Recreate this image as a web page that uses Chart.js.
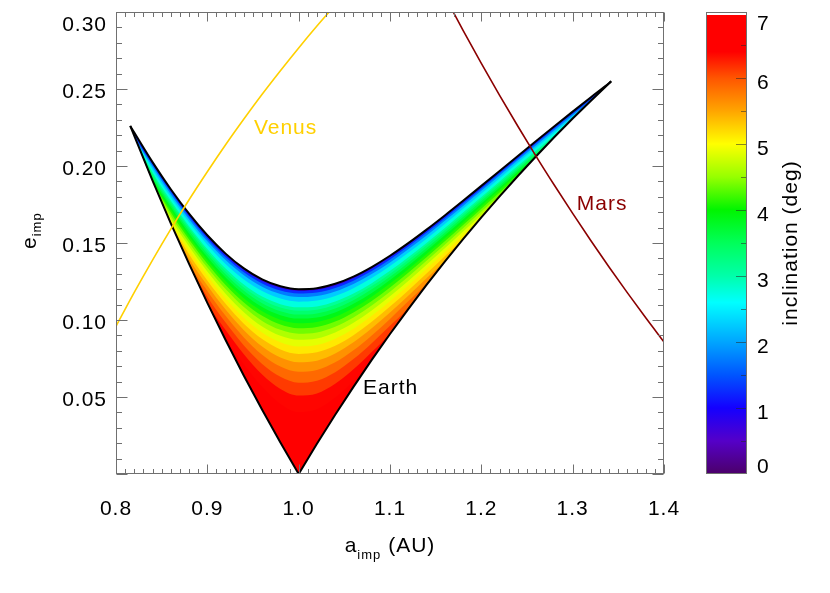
<!DOCTYPE html>
<html>
<head>
<meta charset="utf-8">
<script src="https://cdn.jsdelivr.net/npm/chart.js@4.4.1/dist/chart.umd.min.js"></script>
<style>
  html, body { margin: 0; padding: 0; background: #fff; }
  #wrap { position: relative; width: 830px; height: 593px; }
  #wrap canvas { position: absolute; left: 0; top: 0; }
</style>
</head>
<body>
<div id="wrap">
  <canvas id="mainChart" width="830" height="593"></canvas>
  <canvas id="barChart" width="830" height="593"></canvas>
</div>
<script>
// semi-major axis grid (AU), tip to tip of the impactor region
const aGrid = [0.8156, 0.82, 0.84, 0.86, 0.88, 0.90, 0.92, 0.94, 0.96, 0.98, 1.00, 1.02, 1.04, 1.06, 1.08,
               1.10, 1.12, 1.14, 1.16, 1.18, 1.20, 1.22, 1.24, 1.26, 1.28, 1.30, 1.32, 1.34, 1.3422];

// Earth-crossing boundary (lower edge of the region)
const earthE = [0.2260, 0.2195, 0.1905, 0.1628, 0.1364, 0.1111, 0.0870, 0.0638, 0.0417, 0.0204, 0.0000, 0.0196, 0.0385, 0.0566, 0.0741,
                0.0909, 0.1071, 0.1228, 0.1379, 0.1525, 0.1667, 0.1803, 0.1935, 0.2063, 0.2188, 0.2308, 0.2424, 0.2537, 0.2550];

// eccentricity of the inclination contours (deg), clipped on the Earth curve
const eInc0   = [0.2260, 0.2217, 0.2025, 0.1849, 0.1690, 0.1550, 0.1431, 0.1335, 0.1264, 0.1219, 0.1200, 0.1206, 0.1235, 0.1282, 0.1344, 0.1417, 0.1499, 0.1587, 0.1679, 0.1774, 0.1871, 0.1968, 0.2065, 0.2162, 0.2258, 0.2353, 0.2447, 0.2539, 0.2550];
const eInc05  = [0.2260, 0.2215, 0.2023, 0.1847, 0.1688, 0.1548, 0.1429, 0.1332, 0.1261, 0.1216, 0.1197, 0.1203, 0.1232, 0.1279, 0.1341, 0.1414, 0.1497, 0.1585, 0.1677, 0.1772, 0.1869, 0.1966, 0.2064, 0.2161, 0.2257, 0.2352, 0.2446, 0.2538, 0.2550];
const eInc1   = [0.2260, 0.2210, 0.2018, 0.1841, 0.1681, 0.1541, 0.1421, 0.1324, 0.1252, 0.1207, 0.1188, 0.1194, 0.1222, 0.1270, 0.1332, 0.1407, 0.1489, 0.1578, 0.1671, 0.1766, 0.1863, 0.1961, 0.2058, 0.2155, 0.2252, 0.2347, 0.2441, 0.2537, 0.2550];
const eInc15  = [0.2260, 0.2202, 0.2008, 0.1831, 0.1670, 0.1528, 0.1408, 0.1310, 0.1237, 0.1191, 0.1172, 0.1178, 0.1207, 0.1255, 0.1318, 0.1393, 0.1477, 0.1566, 0.1659, 0.1756, 0.1853, 0.1951, 0.2049, 0.2147, 0.2244, 0.2339, 0.2434, 0.2537, 0.2550];
const eInc2   = [0.2260, 0.2195, 0.1996, 0.1817, 0.1655, 0.1511, 0.1389, 0.1290, 0.1216, 0.1169, 0.1149, 0.1156, 0.1185, 0.1234, 0.1298, 0.1374, 0.1459, 0.1549, 0.1644, 0.1741, 0.1839, 0.1938, 0.2037, 0.2135, 0.2232, 0.2329, 0.2424, 0.2537, 0.2550];
const eInc25  = [0.2260, 0.2195, 0.1979, 0.1798, 0.1634, 0.1489, 0.1364, 0.1263, 0.1188, 0.1139, 0.1119, 0.1126, 0.1156, 0.1206, 0.1272, 0.1350, 0.1436, 0.1528, 0.1623, 0.1722, 0.1821, 0.1921, 0.2021, 0.2120, 0.2218, 0.2315, 0.2424, 0.2537, 0.2550];
const eInc3   = [0.2260, 0.2195, 0.1959, 0.1776, 0.1609, 0.1461, 0.1334, 0.1230, 0.1152, 0.1103, 0.1082, 0.1088, 0.1120, 0.1172, 0.1239, 0.1319, 0.1407, 0.1500, 0.1598, 0.1698, 0.1799, 0.1900, 0.2001, 0.2101, 0.2200, 0.2308, 0.2424, 0.2537, 0.2550];
const eInc325 = [0.2260, 0.2195, 0.1947, 0.1763, 0.1595, 0.1445, 0.1316, 0.1211, 0.1132, 0.1081, 0.1060, 0.1067, 0.1099, 0.1151, 0.1220, 0.1301, 0.1390, 0.1485, 0.1583, 0.1684, 0.1786, 0.1888, 0.1989, 0.2090, 0.2189, 0.2308, 0.2424, 0.2537, 0.2550];
const eInc35  = [0.2260, 0.2195, 0.1934, 0.1748, 0.1579, 0.1428, 0.1297, 0.1190, 0.1109, 0.1057, 0.1035, 0.1043, 0.1075, 0.1129, 0.1199, 0.1281, 0.1372, 0.1468, 0.1567, 0.1669, 0.1772, 0.1874, 0.1977, 0.2078, 0.2188, 0.2308, 0.2424, 0.2537, 0.2550];
const eInc375 = [0.2260, 0.2195, 0.1920, 0.1733, 0.1562, 0.1409, 0.1276, 0.1167, 0.1084, 0.1031, 0.1009, 0.1016, 0.1049, 0.1105, 0.1176, 0.1260, 0.1352, 0.1449, 0.1550, 0.1653, 0.1757, 0.1860, 0.1963, 0.2065, 0.2188, 0.2308, 0.2424, 0.2537, 0.2550];
const eInc4   = [0.2260, 0.2195, 0.1905, 0.1716, 0.1543, 0.1388, 0.1253, 0.1141, 0.1057, 0.1002, 0.0979, 0.0987, 0.1021, 0.1078, 0.1151, 0.1237, 0.1330, 0.1429, 0.1531, 0.1635, 0.1740, 0.1845, 0.1949, 0.2063, 0.2188, 0.2308, 0.2424, 0.2537, 0.2550];
const eInc425 = [0.2260, 0.2195, 0.1905, 0.1698, 0.1523, 0.1365, 0.1228, 0.1114, 0.1027, 0.0971, 0.0947, 0.0955, 0.0990, 0.1049, 0.1124, 0.1211, 0.1307, 0.1407, 0.1511, 0.1617, 0.1723, 0.1828, 0.1935, 0.2063, 0.2188, 0.2308, 0.2424, 0.2537, 0.2550];
const eInc45  = [0.2260, 0.2195, 0.1905, 0.1679, 0.1502, 0.1341, 0.1201, 0.1084, 0.0994, 0.0936, 0.0911, 0.0919, 0.0956, 0.1017, 0.1094, 0.1184, 0.1281, 0.1384, 0.1489, 0.1596, 0.1704, 0.1810, 0.1935, 0.2063, 0.2188, 0.2308, 0.2424, 0.2537, 0.2550];
const eInc475 = [0.2260, 0.2195, 0.1905, 0.1659, 0.1478, 0.1315, 0.1171, 0.1051, 0.0958, 0.0898, 0.0872, 0.0880, 0.0919, 0.0982, 0.1062, 0.1154, 0.1254, 0.1359, 0.1466, 0.1575, 0.1683, 0.1803, 0.1935, 0.2063, 0.2188, 0.2308, 0.2424, 0.2537, 0.2550];
const eInc5   = [0.2260, 0.2195, 0.1905, 0.1637, 0.1454, 0.1287, 0.1140, 0.1015, 0.0919, 0.0856, 0.0828, 0.0837, 0.0878, 0.0943, 0.1027, 0.1122, 0.1224, 0.1332, 0.1441, 0.1551, 0.1667, 0.1803, 0.1935, 0.2063, 0.2188, 0.2308, 0.2424, 0.2537, 0.2550];
const eInc525 = [0.2260, 0.2195, 0.1905, 0.1628, 0.1427, 0.1257, 0.1105, 0.0976, 0.0876, 0.0809, 0.0780, 0.0790, 0.0832, 0.0901, 0.0988, 0.1087, 0.1192, 0.1302, 0.1414, 0.1527, 0.1667, 0.1803, 0.1935, 0.2063, 0.2188, 0.2308, 0.2424, 0.2537, 0.2550];
const eInc55  = [0.2260, 0.2195, 0.1905, 0.1628, 0.1398, 0.1224, 0.1068, 0.0934, 0.0828, 0.0757, 0.0726, 0.0736, 0.0782, 0.0855, 0.0946, 0.1049, 0.1158, 0.1271, 0.1385, 0.1525, 0.1667, 0.1803, 0.1935, 0.2063, 0.2188, 0.2308, 0.2424, 0.2537, 0.2550];
const eInc575 = [0.2260, 0.2195, 0.1905, 0.1628, 0.1368, 0.1189, 0.1027, 0.0887, 0.0775, 0.0698, 0.0664, 0.0675, 0.0725, 0.0803, 0.0900, 0.1007, 0.1121, 0.1237, 0.1379, 0.1525, 0.1667, 0.1803, 0.1935, 0.2063, 0.2188, 0.2308, 0.2424, 0.2537, 0.2550];
const eInc6   = [0.2260, 0.2195, 0.1905, 0.1628, 0.1364, 0.1151, 0.0983, 0.0835, 0.0715, 0.0631, 0.0593, 0.0606, 0.0661, 0.0746, 0.0849, 0.0962, 0.1080, 0.1228, 0.1379, 0.1525, 0.1667, 0.1803, 0.1935, 0.2063, 0.2188, 0.2308, 0.2424, 0.2537, 0.2550];
const eInc625 = [0.2260, 0.2195, 0.1905, 0.1628, 0.1364, 0.1111, 0.0935, 0.0778, 0.0646, 0.0552, 0.0509, 0.0523, 0.0586, 0.0680, 0.0792, 0.0913, 0.1071, 0.1228, 0.1379, 0.1525, 0.1667, 0.1803, 0.1935, 0.2063, 0.2188, 0.2308, 0.2424, 0.2537, 0.2550];
const eInc65  = [0.2260, 0.2195, 0.1905, 0.1628, 0.1364, 0.1111, 0.0881, 0.0713, 0.0566, 0.0455, 0.0402, 0.0420, 0.0496, 0.0605, 0.0741, 0.0909, 0.1071, 0.1228, 0.1379, 0.1525, 0.1667, 0.1803, 0.1935, 0.2063, 0.2188, 0.2308, 0.2424, 0.2537, 0.2550];

const incLevels = [0, 0.5, 1, 1.5, 2, 2.5, 3, 3.25, 3.5, 3.75, 4, 4.25, 4.5, 4.75, 5, 5.25, 5.5, 5.75, 6, 6.25, 6.5];
const levelE = [eInc0, eInc05, eInc1, eInc15, eInc2, eInc25, eInc3, eInc325, eInc35, eInc375, eInc4,
                eInc425, eInc45, eInc475, eInc5, eInc525, eInc55, eInc575, eInc6, eInc625, eInc65];

// Venus perihelion and Mars aphelion curves
const venusA = [0.80, 0.82, 0.84, 0.86, 0.88, 0.90, 0.92, 0.94, 0.96, 0.98, 1.00, 1.02, 1.04];
const venusE = [0.0959, 0.1179, 0.1389, 0.1590, 0.1781, 0.1963, 0.2138, 0.2305, 0.2466, 0.2619, 0.2767, 0.2909, 0.3045];
const marsA = [1.16, 1.18, 1.20, 1.22, 1.24, 1.26, 1.28, 1.30, 1.32, 1.34, 1.36, 1.38, 1.40];
const marsE = [0.3103, 0.2881, 0.2667, 0.2459, 0.2258, 0.2063, 0.1875, 0.1692, 0.1515, 0.1343, 0.1176, 0.1014, 0.0857];

// axis ticks
const xTickValues = [0.8, 0.9, 1.0, 1.1, 1.2, 1.3, 1.4];
const xTickLabels = ['0.8', '0.9', '1.0', '1.1', '1.2', '1.3', '1.4'];
const yTickValues = [0.05, 0.10, 0.15, 0.20, 0.25, 0.30];
const yTickLabels = ['0.05', '0.10', '0.15', '0.20', '0.25', '0.30'];
const cbarTickValues = [0, 1, 2, 3, 4, 5, 6, 7];
const cbarTickLabels = ['0', '1', '2', '3', '4', '5', '6', '7'];
const cbarRange = [0, 6.95];

// rainbow colour table
const cmapStops = [
  [0.0, [75, 0, 105]], [0.5, [85, 0, 200]], [1.0, [20, 0, 255]], [1.5, [0, 85, 255]],
  [2.0, [0, 165, 255]], [2.6, [0, 255, 255]], [3.0, [0, 255, 170]], [3.5, [0, 255, 90]],
  [4.0, [0, 245, 0]], [4.5, [150, 255, 0]], [5.0, [255, 255, 0]], [5.5, [255, 165, 0]],
  [6.0, [255, 85, 0]], [6.4, [255, 0, 0]], [7.0, [255, 0, 0]]
];

function cmap(v) {
  if (v <= cmapStops[0][0]) return 'rgb(' + cmapStops[0][1] + ')';
  for (let k = 1; k < cmapStops.length; k++) {
    const [v1, c1] = cmapStops[k];
    const [v0, c0] = cmapStops[k - 1];
    if (v <= v1) {
      const t = (v - v0) / (v1 - v0);
      const c = c0.map((ch, j) => Math.round(ch + (c1[j] - ch) * t));
      return 'rgb(' + c + ')';
    }
  }
  return 'rgb(' + cmapStops[cmapStops.length - 1][1] + ')';
}

const pts = (xs, ys) => xs.map((x, i) => ({ x: x, y: ys[i] }));

const FONT = '21px "Liberation Sans", Arial, Helvetica, sans-serif';
const SUBFONT = '13px "Liberation Sans", Arial, Helvetica, sans-serif';
const AXIS_GREY = '#707070';

const notes = [
  { text: 'Venus', a: 0.951, e: 0.2245, color: '#ffd000' },
  { text: 'Mars', a: 1.3046, e: 0.175, color: '#8b0000' },
  { text: 'Earth', a: 1.0705, e: 0.0555, color: '#000000' }
];

// IDL style box, inward ticks, labels and titles
const axesPlugin = {
  id: 'idlAxes',
  afterDraw(chart) {
    const { ctx, chartArea: ca, scales: { x, y } } = chart;
    const L = Math.round(ca.left) + 0.5, R = Math.round(ca.right) - 0.5;
    const T = Math.round(ca.top) + 0.5, B = Math.round(ca.bottom) - 0.5;
    ctx.save();
    ctx.strokeStyle = AXIS_GREY;
    ctx.lineWidth = 1;
    ctx.strokeRect(L, T, R - L, B - T);
    ctx.beginPath();
    for (let k = 0; k <= 60; k++) {
      const px = Math.round(x.getPixelForValue(0.8 + k * 0.01)) + 0.5;
      const len = k % 10 === 0 ? 9 : 4.5;
      ctx.moveTo(px, B); ctx.lineTo(px, B - len);
      ctx.moveTo(px, T); ctx.lineTo(px, T + len);
    }
    for (let k = 0; k <= 30; k++) {
      const py = Math.round(y.getPixelForValue(k * 0.01)) + 0.5;
      const len = k % 5 === 0 ? 11 : 5.5;
      ctx.moveTo(L, py); ctx.lineTo(L + len, py);
      ctx.moveTo(R, py); ctx.lineTo(R - len, py);
    }
    ctx.stroke();

    ctx.fillStyle = '#000';
    ctx.font = FONT;
    ctx.letterSpacing = '1px';
    ctx.textBaseline = 'middle';
    ctx.textAlign = 'center';
    xTickValues.forEach((v, i) => ctx.fillText(xTickLabels[i], x.getPixelForValue(v), 509.5));
    ctx.textAlign = 'right';
    yTickValues.forEach((v, i) => {
      const py = Math.max(y.getPixelForValue(v) + 3, ca.top + 13.5);
      ctx.fillText(yTickLabels[i], 107, py);
    });

    // x title: a_imp (AU)
    ctx.textAlign = 'left';
    ctx.textBaseline = 'alphabetic';
    const w1 = ctx.measureText('a').width;
    const w3 = ctx.measureText(' (AU)').width;
    ctx.font = SUBFONT;
    const w2 = ctx.measureText('imp').width;
    const sx = (ca.left + ca.right) / 2 - (w1 + w2 + w3) / 2;
    ctx.font = FONT;
    ctx.fillText('a', sx, 552);
    ctx.font = SUBFONT;
    ctx.fillText('imp', sx + w1, 559);
    ctx.font = FONT;
    ctx.fillText(' (AU)', sx + w1 + w2, 552);

    // y title: e_imp
    ctx.save();
    ctx.translate(36, 249);
    ctx.rotate(-Math.PI / 2);
    ctx.fillText('e', 0, 0);
    const we = ctx.measureText('e').width;
    ctx.font = SUBFONT;
    ctx.fillText('imp', we, 5);
    ctx.restore();

    // curve names
    ctx.font = FONT;
    ctx.textBaseline = 'middle';
    notes.forEach(n => {
      ctx.fillStyle = n.color;
      ctx.fillText(n.text, x.getPixelForValue(n.a), y.getPixelForValue(n.e));
    });
    ctx.restore();
  }
};

const datasets = [
  { label: 'Earth', data: pts(aGrid, earthE), borderColor: '#000', borderWidth: 2, fill: false, order: 1 }
];
incLevels.forEach((lv, k) => {
  const next = k + 1 < incLevels.length ? incLevels[k + 1] : 7;
  datasets.push({
    label: 'i = ' + lv,
    data: pts(aGrid, levelE[k]),
    borderWidth: 0,
    borderColor: 'rgba(0,0,0,0)',
    backgroundColor: cmap((lv + next) / 2),
    cubicInterpolationMode: 'monotone',
    fill: 0,
    order: 100 - k
  });
});
datasets.push({ label: 'i = 0 edge', data: pts(aGrid, eInc0), borderColor: '#000', borderWidth: 2,
                cubicInterpolationMode: 'monotone', fill: false, order: 1 });
datasets.push({ label: 'Venus', data: pts(venusA, venusE), borderColor: '#ffd000', borderWidth: 1.6,
                cubicInterpolationMode: 'monotone', fill: false, order: 0 });
datasets.push({ label: 'Mars', data: pts(marsA, marsE), borderColor: '#8b0000', borderWidth: 1.6,
                cubicInterpolationMode: 'monotone', fill: false, order: 0 });

new Chart(document.getElementById('mainChart'), {
  type: 'line',
  data: { datasets: datasets },
  options: {
    responsive: false,
    animation: false,
    events: [],
    layout: { padding: { left: 116, right: 166, top: 12, bottom: 119 } },
    elements: { point: { radius: 0 }, line: { tension: 0 } },
    scales: {
      x: { type: 'linear', min: 0.8, max: 1.4, display: false },
      y: { type: 'linear', min: 0, max: 0.3, display: false }
    },
    plugins: { legend: { display: false }, tooltip: { enabled: false } }
  },
  plugins: [axesPlugin]
});

// colour bar
const cbarPlugin = {
  id: 'cbarAxis',
  afterDraw(chart) {
    const { ctx, chartArea: ca, scales: { y } } = chart;
    const L = Math.round(ca.left) + 0.5, R = Math.round(ca.right) - 0.5;
    const T = Math.round(ca.top) + 0.5, B = Math.round(ca.bottom) - 0.5;
    ctx.save();
    ctx.strokeStyle = 'rgba(40,40,40,0.55)';
    ctx.lineWidth = 1;
    ctx.beginPath();
    for (let k = 1; k < 14; k++) {
      const py = Math.round(y.getPixelForValue(k * 0.5)) + 0.5;
      const len = k % 2 === 0 ? 10.5 : 5.5;
      ctx.moveTo(R, py); ctx.lineTo(R - len, py);
    }
    ctx.stroke();
    ctx.strokeStyle = AXIS_GREY;
    ctx.strokeRect(L, T, R - L, B - T);

    ctx.fillStyle = '#000';
    ctx.font = FONT;
    ctx.letterSpacing = '1px';
    ctx.textAlign = 'left';
    ctx.textBaseline = 'middle';
    cbarTickValues.forEach((v, i) => {
      const py = Math.min(Math.max(y.getPixelForValue(v) + 5, ca.top + 12.5), ca.bottom - 7);
      ctx.fillText(cbarTickLabels[i], 757, py);
    });
    ctx.translate(791, 243);
    ctx.rotate(-Math.PI / 2);
    ctx.textAlign = 'center';
    ctx.fillText('inclination (deg)', 0, 0);
    ctx.restore();
  }
};

new Chart(document.getElementById('barChart'), {
  type: 'bar',
  data: {
    labels: ['inclination'],
    datasets: [{
      data: [cbarRange],
      borderWidth: 0,
      barPercentage: 1,
      categoryPercentage: 1,
      backgroundColor: (c) => {
        const ch = c.chart;
        if (!ch.chartArea) return cmap(3.5);
        const ys = ch.scales.y;
        const g = ch.ctx.createLinearGradient(0, ys.getPixelForValue(0), 0, ys.getPixelForValue(7));
        cmapStops.forEach(([v, rgb]) => g.addColorStop(v / 7, 'rgb(' + rgb + ')'));
        return g;
      }
    }]
  },
  options: {
    responsive: false,
    animation: false,
    events: [],
    layout: { padding: { left: 706, right: 83, top: 12, bottom: 119 } },
    scales: {
      x: { display: false },
      y: { display: false, min: 0, max: 7 }
    },
    plugins: { legend: { display: false }, tooltip: { enabled: false } }
  },
  plugins: [cbarPlugin]
});
</script>
</body>
</html>
